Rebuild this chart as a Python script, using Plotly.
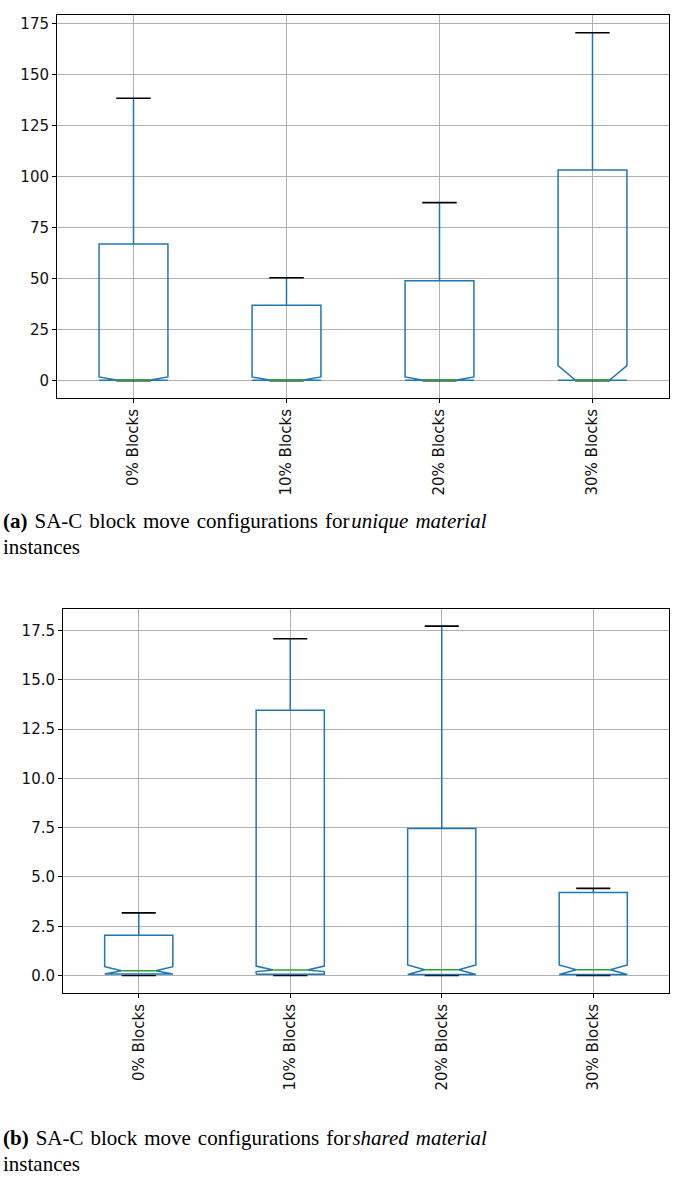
import plotly.graph_objects as go

W, H = 685, 1183

categories = ["0% Blocks", "10% Blocks", "20% Blocks", "30% Blocks"]

# (a) unique material instances
whislo_a = [0, 0, 0, 0]
q1_a = [0.2, 0.2, 0.2, 0.2]
notch_lo_a = [0.2, 0.2, 0.2, 0.2]
med_a = [0.3, 0.3, 0.3, 0.3]
notch_hi_a = [1.8, 1.8, 1.8, 7.4]
q3_a = [67.0, 37.0, 49.0, 103.3]
whishi_a = [138.5, 50.5, 87.3, 170.6]

# (b) shared material instances
whislo_b = [0, 0, 0, 0]
q1_b = [0.08, 0.07, 0.05, 0.05]
notch_lo_b = [0.08, 0.2, 0.05, 0.05]
med_b = [0.24, 0.28, 0.29, 0.29]
notch_hi_b = [0.45, 0.48, 0.54, 0.54]
q3_b = [2.05, 13.45, 7.46, 4.21]
whishi_b = [3.18, 17.08, 17.72, 4.42]

yticks_a = [0, 25, 50, 75, 100, 125, 150, 175]
yticks_b = [0.0, 2.5, 5.0, 7.5, 10.0, 12.5, 15.0, 17.5]

BLUE = "#1f77b4"
GREEN = "#2ca02c"
BLACK = "#000000"
HALF = 0.225
NHALF = 0.1125


def paths(whislo, q1, nlo, med, nhi, q3, whishi):
    pos = list(range(1, len(q1) + 1))
    bx, by, wx, wy, cx, cy, mx, my = [], [], [], [], [], [], [], []
    for i, p in enumerate(pos):
        L, R = p - HALF, p + HALF
        cL, cR = p - NHALF, p + NHALF
        bx += [L, L, cL, L, L, R, R, cR, R, R, L, None]
        by += [q1[i], nlo[i], med[i], nhi[i], q3[i], q3[i], nhi[i], med[i], nlo[i], q1[i], q1[i], None]
        wx += [p, p, None, p, p, None]
        wy += [q3[i], whishi[i], None, q1[i], whislo[i], None]
        cx += [cL, cR, None, cL, cR, None]
        cy += [whishi[i], whishi[i], None, whislo[i], whislo[i], None]
        mx += [cL, cR, None]
        my += [med[i], med[i], None]
    return (bx, by), (wx, wy), (cx, cy), (mx, my)


fig = go.Figure()


def add_panel(stats, xa, ya):
    box, wh, cap, md = paths(*stats)
    fig.add_trace(go.Scatter(x=wh[0], y=wh[1], mode="lines", line=dict(color=BLUE, width=1.5),
                             xaxis=xa, yaxis=ya, showlegend=False, hoverinfo="skip"))
    fig.add_trace(go.Scatter(x=cap[0], y=cap[1], mode="lines", line=dict(color=BLACK, width=1.6),
                             xaxis=xa, yaxis=ya, showlegend=False, hoverinfo="skip"))
    fig.add_trace(go.Scatter(x=box[0], y=box[1], mode="lines", line=dict(color=BLUE, width=1.5),
                             xaxis=xa, yaxis=ya, showlegend=False, hoverinfo="skip"))
    fig.add_trace(go.Scatter(x=md[0], y=md[1], mode="lines", line=dict(color=GREEN, width=1.5),
                             xaxis=xa, yaxis=ya, showlegend=False, hoverinfo="skip"))


add_panel((whislo_a, q1_a, notch_lo_a, med_a, notch_hi_a, q3_a, whishi_a), "x", "y")
add_panel((whislo_b, q1_b, notch_lo_b, med_b, notch_hi_b, q3_b, whishi_b), "x2", "y2")

tickfont = dict(family="DejaVu Sans", size=15, color="#111111")
common_x = dict(range=[0.5, 4.5], tickvals=[1, 2, 3, 4], ticktext=categories, tickangle=-90,
                showgrid=True, gridcolor="#b0b0b0", gridwidth=1, zeroline=False,
                showline=True, mirror=True, linecolor="#000000", linewidth=1,
                ticks="outside", ticklen=4, tickcolor="#000000", tickfont=tickfont, fixedrange=True)
common_y = dict(showgrid=True, gridcolor="#b0b0b0", gridwidth=1, zeroline=False,
                showline=True, mirror=True, linecolor="#000000", linewidth=1,
                ticks="outside", ticklen=4, tickcolor="#000000", tickfont=tickfont, fixedrange=True)


def dom_x(l, r):
    return [l / W, r / W]


def dom_y(t, b):
    return [1 - b / H, 1 - t / H]


fig.update_layout(
    width=W, height=H,
    margin=dict(l=0, r=0, t=0, b=0),
    paper_bgcolor="white", plot_bgcolor="white",
    xaxis=dict(common_x, domain=dom_x(57, 669), anchor="y"),
    yaxis=dict(common_y, domain=dom_y(15, 398), anchor="x", range=[-8.5, 179.3],
               tickvals=yticks_a, ticktext=[str(v) for v in yticks_a]),
    xaxis2=dict(common_x, domain=dom_x(63, 669), anchor="y2"),
    yaxis2=dict(common_y, domain=dom_y(609, 993), anchor="x2", range=[-0.885, 18.59],
                tickvals=yticks_b, ticktext=[f"{v:.1f}" for v in yticks_b]),
)

SP = "\u2004"
capfont = dict(family="Liberation Serif", size=21, color="#000000")
captions = [
    ("<b>(a)</b>" + SP + SP.join(["SA-C", "block", "move", "configurations", "for\u200a<i>unique"])
     + SP + "material</i>", 521),
    ("instances", 547),
    ("<b>(b)</b>" + SP + SP.join(["SA-C", "block", "move", "configurations", "for\u200a<i>shared"])
     + SP + "material</i>", 1138),
    ("instances", 1164),
]
for txt, yc in captions:
    fig.add_annotation(text=txt, xref="paper", yref="paper", x=1 / W, y=1 - yc / H,
                       xanchor="left", yanchor="middle", showarrow=False, font=capfont)

fig.write_html("out.html", config={"displayModeBar": False},
               post_script="document.body.style.margin='0';document.body.style.overflow='hidden';")
